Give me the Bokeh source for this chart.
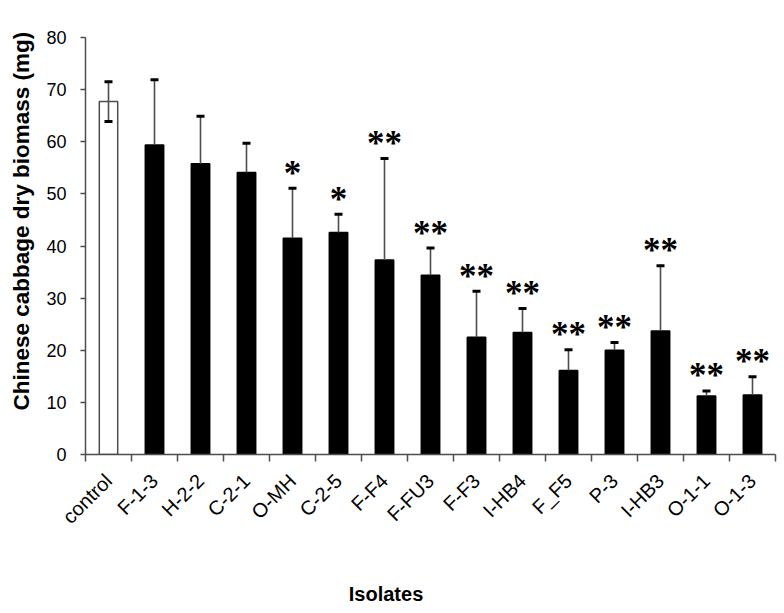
import math
from bokeh.plotting import figure
from bokeh.models import ColumnDataSource, Range1d, FixedTicker, LinearAxis, Title
from bokeh.embed import file_html
from bokeh.resources import INLINE

# ---- data ----
isolates = ["control", "F-1-3", "H-2-2", "C-2-1", "O-MH", "C-2-5", "F-F4", "F-FU3",
            "F-F3", "I-HB4", "F_F5", "P-3", "I-HB3", "O-1-1", "O-1-3"]
biomass = [67.7, 59.4, 55.8, 54.1, 41.5, 42.6, 37.3, 34.4, 22.5, 23.4, 16.1, 20.0, 23.7, 11.2, 11.4]
sd = [3.8, 12.5, 9.1, 5.6, 9.6, 3.5, 19.5, 5.2, 8.8, 4.6, 4.0, 1.5, 12.5, 1.0, 3.5]
lower_shown = [True] + [False] * 14
significance = ["", "", "", "", "*", "*", "**", "**", "**", "**", "**", "**", "**", "**", "**"]
y_ticks = [0, 10, 20, 30, 40, 50, 60, 70, 80]
x_title = "Isolates"
y_title = "Chinese cabbage dry biomass (mg)"

FONT = "Liberation Sans"
AX = "#4d4d4d"

n = len(isolates)
xs = [i + 0.5 for i in range(n)]
upper = [m + s for m, s in zip(biomass, sd)]
low_end = [m - s if show else m for m, s, show in zip(biomass, sd, lower_shown)]
fills = ["white" if i == 0 else "black" for i in range(n)]
lines = [AX if i == 0 else "black" for i in range(n)]

src = ColumnDataSource(dict(x=xs, mean=biomass, upper=upper, low=low_end,
                            fill=fills, line=lines))

p = figure(width=784, height=613, output_backend="svg", toolbar_location=None,
           x_range=Range1d(0, n), y_range=Range1d(0, 80), x_axis_location=None,
           min_border_left=83, min_border_right=9, min_border_top=37, min_border_bottom=159)
p.outline_line_color = None
p.xgrid.grid_line_color = None
p.ygrid.grid_line_color = None
p.background_fill_color = "white"
p.border_fill_color = "white"

p.vbar(x="x", top="mean", bottom=0, width=0.4, source=src,
       fill_color="fill", line_color="line", line_width=1.5)
p.segment(x0="x", y0="low", x1="x", y1="upper", source=src, line_color=AX, line_width=1.6)
p.rect(x="x", y="upper", width=8, height=3, width_units="screen", height_units="screen",
       source=src, fill_color="black", line_color=None)
low_src = ColumnDataSource(dict(x=[xs[i] for i in range(n) if lower_shown[i]],
                                y=[low_end[i] for i in range(n) if lower_shown[i]]))
p.rect(x="x", y="y", width=8, height=3, width_units="screen", height_units="screen",
       source=low_src, fill_color="black", line_color=None)

star_idx = [i for i in range(n) if significance[i]]
star_src = ColumnDataSource(dict(x=[xs[i] for i in star_idx],
                                 y=[upper[i] for i in star_idx],
                                 sig=[significance[i] for i in star_idx]))
p.text(x="x", y="y", text="sig", source=star_src, text_align="center",
       text_baseline="alphabetic", text_font_size="35px", text_font="Liberation Sans",
       text_font_style="bold", y_offset=-15, text_color="black")

# y axis
ya = p.yaxis[0]
ya.ticker = FixedTicker(ticks=y_ticks)
ya.major_tick_in = 0
ya.major_tick_out = 5
ya.minor_tick_line_color = None
ya.axis_line_color = AX
ya.axis_line_width = 1.5
ya.major_tick_line_color = AX
ya.major_tick_line_width = 1.5
ya.major_label_text_font = FONT
ya.major_label_text_font_size = "18px"
ya.major_label_text_color = "black"
ya.major_label_standoff = 14

# x axis: labels at category centres, ticks at category boundaries
xa = LinearAxis(ticker=FixedTicker(ticks=xs, minor_ticks=list(range(n + 1))),
                major_label_overrides={x: name for x, name in zip(xs, isolates)},
                major_label_orientation=math.pi / 4,
                axis_line_color=AX, axis_line_width=1.5,
                major_tick_line_color=None, major_tick_in=0, major_tick_out=7,
                minor_tick_line_color=AX, minor_tick_line_width=1.5,
                minor_tick_in=0, minor_tick_out=7,
                major_label_standoff=16, major_label_text_font=FONT,
                major_label_text_font_size="20px", major_label_text_color="black")
p.add_layout(xa, "below")

# x title: carried by a bare axis (no line/ticks); trailing no-break spaces move the
# visible word left of the plot centre, where the reference has it
xt_axis = LinearAxis(ticker=FixedTicker(ticks=[]),
                     axis_line_color=None, major_tick_line_color=None, minor_tick_line_color=None,
                     major_tick_in=0, major_tick_out=0, major_label_standoff=0,
                     axis_label=x_title + "\u00a0" * 16, axis_label_standoff=44,
                     axis_label_text_font=FONT,
                     axis_label_text_font_size="20px", axis_label_text_font_style="bold",
                     axis_label_text_color="black")
p.add_layout(xt_axis, "below")

# y title: a left-side title, started above the frame bottom as in the reference
yt = Title(text=y_title, align="left", offset=44, vertical_align="top", text_font=FONT,
           text_font_size="22.5px", text_font_style="bold", text_color="black", standoff=16)
p.add_layout(yt, "left")

open("out.html", "w").write(file_html(p, INLINE))
